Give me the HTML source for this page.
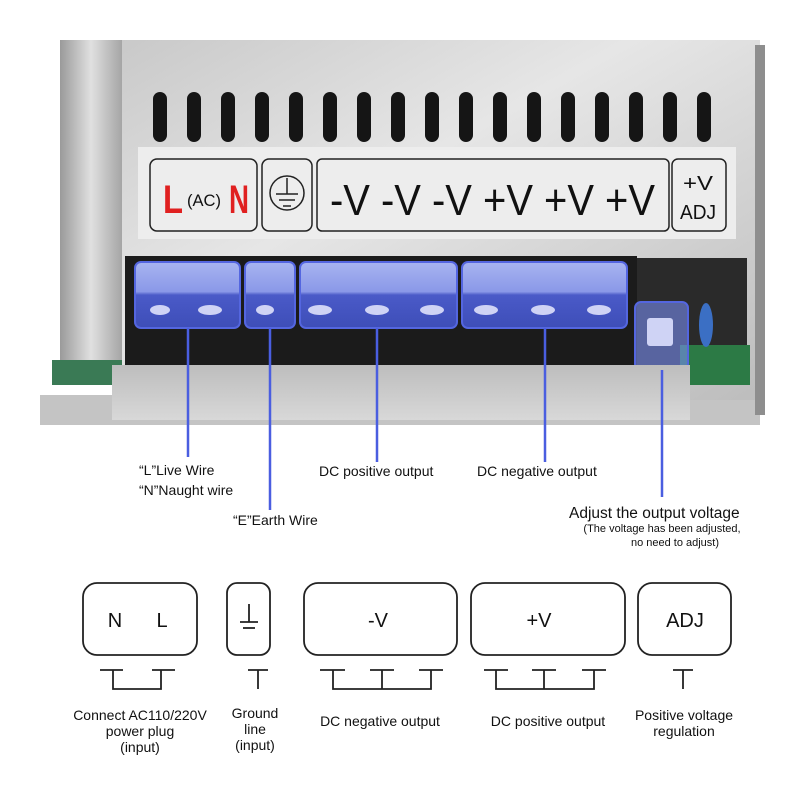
<!DOCTYPE html>
<html><head><meta charset="utf-8"><style>
html,body{margin:0;padding:0;background:#fff;}
svg{display:block;}
text{font-family:"Liberation Sans",sans-serif;fill:#111;}
</style></head><body>
<svg width="800" height="791" viewBox="0 0 800 791" xmlns="http://www.w3.org/2000/svg">
<defs>
<linearGradient id="metal" x1="0" y1="0" x2="1" y2="1">
<stop offset="0" stop-color="#c9c9c9"/><stop offset="0.4" stop-color="#e6e6e6"/><stop offset="1" stop-color="#bdbdbd"/></linearGradient>
<linearGradient id="side" x1="0" y1="0" x2="1" y2="0">
<stop offset="0" stop-color="#9a9a9a"/><stop offset="0.5" stop-color="#e0e0e0"/><stop offset="1" stop-color="#a5a5a5"/></linearGradient>
<linearGradient id="plate" x1="0" y1="0" x2="0" y2="1">
<stop offset="0" stop-color="#bdbdbd"/><stop offset="1" stop-color="#d8d8d8"/></linearGradient>
<linearGradient id="term" x1="0" y1="0" x2="0" y2="1">
<stop offset="0" stop-color="#a8b4f0"/><stop offset="0.45" stop-color="#8a98e8"/><stop offset="0.5" stop-color="#4a5ac8"/><stop offset="1" stop-color="#3e4eb8"/></linearGradient>
</defs>
<rect x="40" y="395" width="720" height="30" fill="#c4c4c4"/>
<rect x="120" y="40" width="640" height="360" fill="url(#metal)"/>
<rect x="60" y="40" width="62" height="330" fill="url(#side)"/>
<rect x="755" y="45" width="10" height="370" fill="#8e8e8e"/>
<g fill="#151515">
<rect x="153" y="92" width="14" height="50" rx="7"/><rect x="187" y="92" width="14" height="50" rx="7"/>
<rect x="221" y="92" width="14" height="50" rx="7"/><rect x="255" y="92" width="14" height="50" rx="7"/>
<rect x="289" y="92" width="14" height="50" rx="7"/><rect x="323" y="92" width="14" height="50" rx="7"/>
<rect x="357" y="92" width="14" height="50" rx="7"/><rect x="391" y="92" width="14" height="50" rx="7"/>
<rect x="425" y="92" width="14" height="50" rx="7"/><rect x="459" y="92" width="14" height="50" rx="7"/>
<rect x="493" y="92" width="14" height="50" rx="7"/><rect x="527" y="92" width="14" height="50" rx="7"/>
<rect x="561" y="92" width="14" height="50" rx="7"/><rect x="595" y="92" width="14" height="50" rx="7"/>
<rect x="629" y="92" width="14" height="50" rx="7"/><rect x="663" y="92" width="14" height="50" rx="7"/>
<rect x="697" y="92" width="14" height="50" rx="7"/>
</g>
<rect x="138" y="147" width="598" height="92" fill="#ededed"/>
<g fill="none" stroke="#222" stroke-width="1.5">
<rect x="150" y="159" width="107" height="72" rx="7"/>
<rect x="262" y="159" width="50" height="72" rx="7"/>
<rect x="317" y="159" width="352" height="72" rx="5"/>
<rect x="672" y="159" width="54" height="72" rx="6"/>
<circle cx="287" cy="193" r="17"/>
<line x1="287" y1="178" x2="287" y2="194"/><line x1="276" y1="194" x2="298" y2="194"/>
<line x1="279" y1="200" x2="295" y2="200"/><line x1="283" y1="206" x2="291" y2="206"/>
</g>
<text x="163" y="213" font-size="40" font-weight="bold" style="fill:#e02020" textLength="20" lengthAdjust="spacingAndGlyphs">L</text>
<text x="187" y="206" font-size="17" textLength="34" lengthAdjust="spacingAndGlyphs">(AC)</text>
<text x="229" y="213" font-size="40" font-weight="bold" style="fill:#e02020" textLength="20" lengthAdjust="spacingAndGlyphs">N</text>
<text x="330" y="215" font-size="44" textLength="325" lengthAdjust="spacingAndGlyphs">-V -V -V +V +V +V</text>
<text x="683" y="190" font-size="20" textLength="30" lengthAdjust="spacingAndGlyphs">+V</text>
<text x="680" y="219" font-size="20" textLength="36" lengthAdjust="spacingAndGlyphs">ADJ</text>
<rect x="125" y="256" width="512" height="112" fill="#1b1b1b"/>
<rect x="637" y="258" width="110" height="110" fill="#2a2a2a"/>
<rect x="680" y="345" width="70" height="40" fill="#2c7a45"/>
<rect x="52" y="360" width="70" height="25" fill="#3a7a55"/>
<ellipse cx="706" cy="325" rx="7" ry="22" fill="#3b6fc4"/>
<g fill="url(#term)" stroke="#5466e0" stroke-width="2">
<rect x="135" y="262" width="105" height="66" rx="6"/>
<rect x="245" y="262" width="50" height="66" rx="6"/>
<rect x="300" y="262" width="157" height="66" rx="6"/>
<rect x="462" y="262" width="165" height="66" rx="6"/>
<rect x="635" y="302" width="53" height="68" rx="6" fill="rgba(120,140,240,0.6)"/>
</g>
<g fill="#cfd3f5">
<ellipse cx="160" cy="310" rx="10" ry="5"/><ellipse cx="210" cy="310" rx="12" ry="5"/>
<ellipse cx="265" cy="310" rx="9" ry="5"/><ellipse cx="320" cy="310" rx="12" ry="5"/>
<ellipse cx="377" cy="310" rx="12" ry="5"/><ellipse cx="432" cy="310" rx="12" ry="5"/>
<ellipse cx="486" cy="310" rx="12" ry="5"/><ellipse cx="543" cy="310" rx="12" ry="5"/>
<ellipse cx="599" cy="310" rx="12" ry="5"/>
<rect x="647" y="318" width="26" height="28" rx="3"/>
</g>
<rect x="112" y="365" width="578" height="55" fill="url(#plate)"/>
<g stroke="#4a5ee0" stroke-width="2.5">
<line x1="188" y1="328" x2="188" y2="457"/>
<line x1="270" y1="328" x2="270" y2="510"/>
<line x1="377" y1="328" x2="377" y2="462"/>
<line x1="545" y1="328" x2="545" y2="462"/>
<line x1="662" y1="370" x2="662" y2="497"/>
</g>
<g font-size="14">
<text x="139" y="475">“L”Live Wire</text>
<text x="139" y="495">“N”Naught wire</text>
<text x="233" y="525">“E”Earth Wire</text>
<text x="319" y="476">DC positive output</text>
<text x="477" y="476">DC negative output</text>
<text x="569" y="518" font-size="15.5">Adjust the output voltage</text>
<text x="662" y="532" font-size="11" text-anchor="middle">(The voltage has been adjusted,</text>
<text x="675" y="546" font-size="11" text-anchor="middle">no need to adjust)</text>
</g>
<g fill="none" stroke="#222" stroke-width="1.8">
<rect x="83" y="583" width="114" height="72" rx="14"/>
<rect x="227" y="583" width="43" height="72" rx="10"/>
<rect x="304" y="583" width="153" height="72" rx="14"/>
<rect x="471" y="583" width="154" height="72" rx="14"/>
<rect x="638" y="583" width="93" height="72" rx="14"/>
<line x1="249" y1="604" x2="249" y2="622"/><line x1="240" y1="622" x2="258" y2="622"/><line x1="243" y1="628" x2="255" y2="628"/>
<path d="M100 670H123M113 670V689H161V670M152 670H175"/>
<path d="M248 670H268M258 670V689"/>
<path d="M320 670H345M333 670V689H431V670M419 670H443M370 670H394M382 670V689"/>
<path d="M484 670H508M496 670V689H594V670M582 670H606M532 670H556M544 670V689"/>
<path d="M673 670H693M683 670V689"/>
</g>
<g font-size="20" text-anchor="middle">
<text x="115" y="627">N</text><text x="162" y="627">L</text>
<text x="378" y="627">-V</text><text x="539" y="627">+V</text><text x="685" y="627">ADJ</text>
</g>
<g font-size="14" text-anchor="middle">
<text x="140" y="720">Connect AC110/220V</text>
<text x="140" y="736">power plug</text>
<text x="140" y="752">(input)</text>
<text x="255" y="718">Ground</text>
<text x="255" y="734">line</text>
<text x="255" y="750">(input)</text>
<text x="380" y="726">DC negative output</text>
<text x="548" y="726">DC positive output</text>
<text x="684" y="720">Positive voltage</text>
<text x="684" y="736">regulation</text>
</g>
</svg>
</body></html>
